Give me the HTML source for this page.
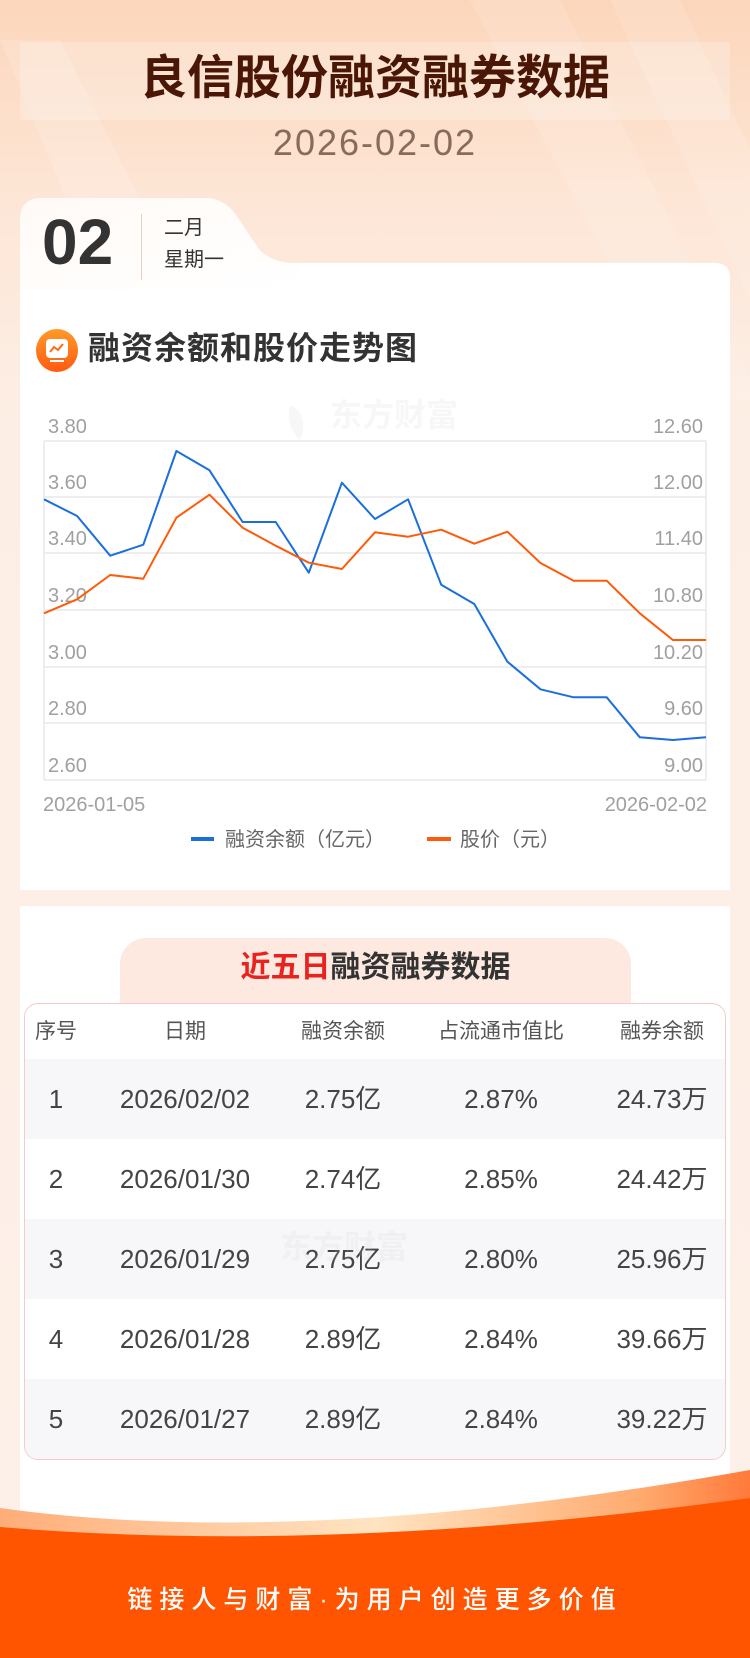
<!DOCTYPE html>
<html><head><meta charset="utf-8">
<style>
*{margin:0;padding:0;box-sizing:border-box}
body{width:750px;height:1658px;position:relative;overflow:hidden;font-family:"Liberation Sans","Noto Sans CJK SC",sans-serif;background:#fdeee4}
.abs{position:absolute}
.bg{left:0;top:0;width:750px;height:1658px;background:linear-gradient(180deg,#fcd6bb 0%,#fde6d6 12%,#fdeee5 25%,#fdf0e8 100%)}
.cn{font-family:"Liberation Sans","Noto Sans CJK SC",sans-serif}
.ctr{text-align:center}
td{text-align:center;line-height:30px;vertical-align:middle}
td span{display:inline-block;line-height:30px}
</style></head><body>
<div class="abs bg"></div>
<svg class="abs" style="left:0;top:0" width="750" height="400">
<polygon points="0,40 60,40 240,400 150,400" fill="rgba(255,255,255,0.14)"/>
<polygon points="470,0 560,0 760,400 680,400" fill="rgba(255,255,255,0.12)"/>
<polygon points="610,0 680,0 750,150 750,300" fill="rgba(255,255,255,0.12)"/>
</svg>
<div class="abs" style="left:20px;top:42px;width:710px;height:78px;background:rgba(255,255,255,0.22)"></div>
<div class="abs cn ctr" style="left:0;top:48px;width:750px;font-size:47px;font-weight:bold;color:#4a1606;line-height:60px">良信股份融资融券数据</div>
<div class="abs ctr" style="left:0;top:122px;width:750px;font-size:36px;color:#8b6a5c;letter-spacing:2px;line-height:42px">2026-02-02</div>

<svg class="abs" style="left:0;top:190px" width="750" height="720">
<defs><linearGradient id="tg" x1="0" y1="0" x2="1" y2="1"><stop offset="0" stop-color="#fffaf6"/><stop offset="1" stop-color="#ffffff"/></linearGradient></defs>
<path d="M20,700 L20,30 Q20,8 42,8 L205,8 Q225,8 238,28 L258,58 Q270,73 295,73 L715,73 Q730,73 730,88 L730,700 Z" fill="#fff"/>
<path d="M20,100 L20,30 Q20,8 42,8 L205,8 Q225,8 238,28 L258,58 Q270,73 295,73 L300,73 L300,100 Z" fill="url(#tg)"/>
</svg>
<div class="abs" style="left:42px;top:204px;font-size:64px;font-weight:bold;color:#333;line-height:76px">02</div>
<div class="abs" style="left:141px;top:214px;width:1px;height:66px;background:#f2cbb8"></div>
<div class="abs cn" style="left:164px;top:216px;font-size:20px;color:#333;line-height:24px">二月</div>
<div class="abs cn" style="left:164px;top:248px;font-size:20px;color:#333;line-height:24px">星期一</div>

<div class="abs" style="left:36px;top:329px;width:42px;height:43px;border-radius:50%;background:linear-gradient(180deg,#ff9a2a,#ff5a10)"></div>
<div class="abs" style="left:46px;top:339px;width:22px;height:19px;border-radius:4px;background:#fff"></div>
<div class="abs" style="left:50px;top:360px;width:14px;height:2px;background:#fff"></div>
<svg class="abs" style="left:48px;top:342px" width="18" height="12"><polyline points="2,10 6,5 10,8 15,2" fill="none" stroke="#ff6a10" stroke-width="2"/></svg>
<div class="abs cn" style="left:88px;top:329px;font-size:32px;font-weight:bold;color:#333;line-height:38px;letter-spacing:1px">融资余额和股价走势图</div>

<svg class="abs" style="left:0;top:380px" width="750" height="480">
<text x="330" y="46" font-size="32" font-weight="bold" fill="#f7f7f7" font-family="Liberation Sans,Noto Sans CJK SC,sans-serif">东方财富</text>
<path d="M290,25 Q310,35 300,60 Q285,45 290,25Z" fill="#f7f7f7"/>
<g stroke="#e8e8e8" stroke-width="1.5">
<line x1="44" y1="61" x2="706" y2="61"/><line x1="44" y1="117" x2="706" y2="117"/>
<line x1="44" y1="173" x2="706" y2="173"/><line x1="44" y1="230" x2="706" y2="230"/>
<line x1="44" y1="287" x2="706" y2="287"/><line x1="44" y1="343" x2="706" y2="343"/>
<line x1="44" y1="400" x2="706" y2="400"/>
<line x1="44" y1="61" x2="44" y2="400"/><line x1="706" y1="61" x2="706" y2="400"/>
</g>
<g font-size="20" fill="#a0a0a0" font-family="Liberation Sans,sans-serif">
<text x="48" y="53">3.80</text><text x="48" y="109">3.60</text><text x="48" y="165">3.40</text>
<text x="48" y="222">3.20</text><text x="48" y="279">3.00</text><text x="48" y="335">2.80</text><text x="48" y="392">2.60</text>
<g text-anchor="end">
<text x="703" y="53">12.60</text><text x="703" y="109">12.00</text><text x="703" y="165">11.40</text>
<text x="703" y="222">10.80</text><text x="703" y="279">10.20</text><text x="703" y="335">9.60</text><text x="703" y="392">9.00</text>
</g>
<text x="43" y="431">2026-01-05</text><text x="707" y="431" text-anchor="end">2026-02-02</text>
</g>
<polyline fill="none" stroke="#1a6fdc" stroke-width="2" stroke-linejoin="round" points="44,119.3 77.1,136 110.2,175.7 143.3,164.7 176.4,71 209.5,90.3 242.6,142 275.7,142 308.8,192.7 341.9,102.7 375,139 408.1,119.3 441.2,204.7 474.3,224 507.4,281.7 540.5,309.3 573.6,317.3 606.7,317.3 639.8,357.3 672.9,360 706,357.3"/>
<polyline fill="none" stroke="#ff5a0a" stroke-width="2" stroke-linejoin="round" points="44,233.3 77.1,219.3 110.2,195 143.3,198.7 176.4,137.7 209.5,114.7 242.6,147.7 275.7,165.7 308.8,182.7 341.9,189 375,152.3 408.1,156.7 441.2,149.7 474.3,163.7 507.4,151.7 540.5,183 573.6,200.7 606.7,200.7 639.8,233.3 672.9,260 706,260"/>
<line x1="191" y1="459" x2="214" y2="459" stroke="#1a6fdc" stroke-width="4"/>
<line x1="427" y1="459" x2="451" y2="459" stroke="#ff5a0a" stroke-width="4"/>
<g font-size="20" fill="#666" font-family="Liberation Sans,Noto Sans CJK SC,sans-serif">
<text x="225" y="466">融资余额（亿元）</text><text x="460" y="466">股价（元）</text>
</g>
</svg>

<div class="abs" style="left:20px;top:906px;width:710px;height:700px;background:#fff"></div>
<div class="abs" style="left:120px;top:938px;width:511px;height:70px;background:#fde9df;border-radius:26px 26px 0 0"></div>
<div class="abs cn ctr" style="left:120px;top:950px;width:511px;font-size:30px;font-weight:bold;line-height:36px;color:#333"><span style="color:#e8231f">近五日</span>融资融券数据</div>
<div class="abs" style="left:24px;top:1003px;width:702px;height:457px;border:1px solid #f8c9c9;border-radius:14px;overflow:hidden;background:#fff">
<table style="border-collapse:collapse;width:700px;font-size:26px;color:#444">
<colgroup><col style="width:62px"><col style="width:196px"><col style="width:120px"><col style="width:196px"><col style="width:126px"></colgroup>
<tr style="height:55px;font-size:21px;color:#555"><td>序号</td><td>日期</td><td>融资余额</td><td>占流通市值比</td><td>融券余额</td></tr>
<tr style="height:80px;background:#f7f7f9"><td>1</td><td>2026/02/02</td><td>2.75亿</td><td>2.87%</td><td>24.73万</td></tr>
<tr style="height:80px"><td>2</td><td>2026/01/30</td><td>2.74亿</td><td>2.85%</td><td>24.42万</td></tr>
<tr style="height:80px;background:#f7f7f9"><td>3</td><td>2026/01/29</td><td>2.75亿</td><td>2.80%</td><td>25.96万</td></tr>
<tr style="height:80px"><td>4</td><td>2026/01/28</td><td>2.89亿</td><td>2.84%</td><td>39.66万</td></tr>
<tr style="height:80px;background:#f7f7f9"><td>5</td><td>2026/01/27</td><td>2.89亿</td><td>2.84%</td><td>39.22万</td></tr>
</table></div>
<div class="abs cn" style="left:280px;top:1222px;font-size:32px;font-weight:bold;color:rgba(200,200,200,0.15)">东方财富</div>

<svg class="abs" style="left:0;top:1470px" width="750" height="188">
<defs><linearGradient id="wg" x1="0" y1="0" x2="1" y2="0"><stop offset="0" stop-color="#ffad78"/><stop offset="0.5" stop-color="#ffe4c2"/><stop offset="0.85" stop-color="#ffab70"/><stop offset="1" stop-color="#ff7a3a"/></linearGradient></defs>
<path d="M0,38 Q300,80 750,0 L750,188 L0,188 Z" fill="url(#wg)"/>
<path d="M0,57 Q330,85 750,28 L750,188 L0,188 Z" fill="#ff5500"/>
</svg>
<div class="abs cn ctr" style="left:0;top:1584px;width:750px;font-size:25px;color:#fff;letter-spacing:7px;line-height:32px;font-weight:500">链接人与财富·为用户创造更多价值</div>
</body></html>
